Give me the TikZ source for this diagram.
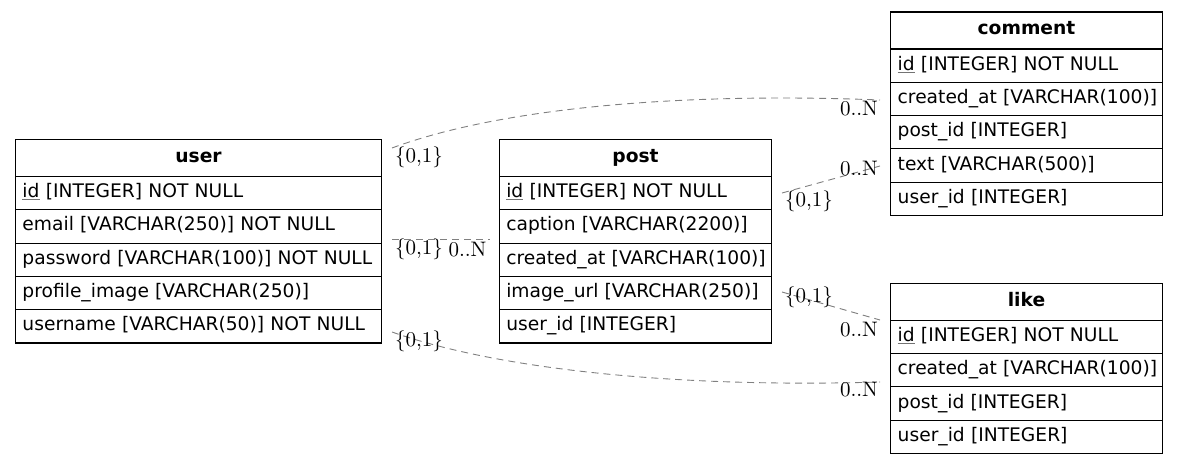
\documentclass[tikz,border=0pt]{standalone}
\usepackage{fontspec}
\newfontfamily\dejavu{DejaVu Sans}
\newfontfamily\cardfont{lmroman10-regular.otf}
% primary key: text in black, underline rule in grey
\newcommand\pkey[1]{{\color{black!55}\underline{\color{black}#1}}}
\begin{document}
\begin{tikzpicture}[x=1pt,y=-1pt,
  tbl/.style={draw=black, line width=1.1pt, inner ysep=0pt, outer sep=0pt, anchor=north west,
    font=\dejavu\fontsize{18.67}{22}\selectfont, text height=14, text depth=5},
  hdr/.style={tbl, minimum height=37, font=\dejavu\bfseries\fontsize{18.67}{22}\selectfont},
  fld/.style={tbl, minimum height=33.3, inner xsep=7pt, align=left},
  rel/.style={draw={rgb,255:red,128;green,128;blue,128}, line width=0.9pt, dash pattern=on 7pt off 5pt},
  card/.style={inner sep=0pt, font=\cardfont\fontsize{21}{25}\selectfont}
]
\useasboundingbox (0,0) rectangle (1179,465);

% user table
\node[hdr, minimum width=366] (user) at (15.5,139.5) {user};
\node[fld, text width=352] (user-id) at (user.south west) {\mbox{\pkey{id} [INTEGER] NOT NULL}};
\node[fld, text width=352] (user-email) at (user-id.south west) {\mbox{email [VARCHAR(250)] NOT NULL}};
\node[fld, text width=352] (user-password) at (user-email.south west) {\mbox{password [VARCHAR(100)] NOT NULL}};
\node[fld, text width=352] (user-profile) at (user-password.south west) {\mbox{profile\_image [VARCHAR(250)]}};
\node[fld, text width=352] (user-username) at (user-profile.south west) {\mbox{username [VARCHAR(50)] NOT NULL}};

% post table
\node[hdr, minimum width=272.4] (post) at (499.3,139.5) {post};
\node[fld, text width=258.4] (post-id) at (post.south west) {\mbox{\pkey{id} [INTEGER] NOT NULL}};
\node[fld, text width=258.4] (post-caption) at (post-id.south west) {\mbox{caption [VARCHAR(2200)]}};
\node[fld, text width=258.4] (post-created) at (post-caption.south west) {\mbox{created\_at [VARCHAR(100)]}};
\node[fld, text width=258.4] (post-image) at (post-created.south west) {\mbox{image\_url [VARCHAR(250)]}};
\node[fld, text width=258.4] (post-user) at (post-image.south west) {\mbox{user\_id [INTEGER]}};

% comment table
\node[hdr, minimum width=271.6] (comment) at (890.7,12) {comment};
\node[fld, text width=257.6] (comment-id) at (comment.south west) {\mbox{\pkey{id} [INTEGER] NOT NULL}};
\node[fld, text width=257.6] (comment-created) at (comment-id.south west) {\mbox{created\_at [VARCHAR(100)]}};
\node[fld, text width=257.6] (comment-post) at (comment-created.south west) {\mbox{post\_id [INTEGER]}};
\node[fld, text width=257.6] (comment-text) at (comment-post.south west) {\mbox{text [VARCHAR(500)]}};
\node[fld, text width=257.6] (comment-user) at (comment-text.south west) {\mbox{user\_id [INTEGER]}};

% like table
\node[hdr, minimum width=271.6] (like) at (890.7,283.3) {like};
\node[fld, text width=257.6] (like-id) at (like.south west) {\mbox{\pkey{id} [INTEGER] NOT NULL}};
\node[fld, text width=257.6] (like-created) at (like-id.south west) {\mbox{created\_at [VARCHAR(100)]}};
\node[fld, text width=257.6] (like-post) at (like-created.south west) {\mbox{post\_id [INTEGER]}};
\node[fld, text width=257.6] (like-user) at (like-post.south west) {\mbox{user\_id [INTEGER]}};

% relationship end points
\coordinate (uc-a) at (392,148);
\coordinate (uc-b) at (880,100);
\coordinate (up-a) at (392,239);
\coordinate (up-b) at (490,239);
\coordinate (ul-a) at (392,332);
\coordinate (ul-b) at (880,382);
\coordinate (pc-a) at (782,193);
\coordinate (pc-b) at (880,166);
\coordinate (pl-a) at (782,292);
\coordinate (pl-b) at (880,320);

% relationships
\draw[rel] (uc-a) .. controls (500,108) and (680,92) .. (uc-b);
\draw[rel] (up-a) -- (up-b);
\draw[rel] (ul-a) .. controls (500,370) and (680,388) .. (ul-b);
\draw[rel] (pc-a) -- (pc-b);
\draw[rel] (pl-a) -- (pl-b);

% cardinalities
\node[card] (uc-from) at (419,157.5) {\{0,1\}};
\node[card] (uc-to) at (859,108.5) {0..N};
\node[card] (up-from) at (419,249.5) {\{0,1\}};
\node[card] (up-to) at (467.5,249.5) {0..N};
\node[card] (ul-from) at (419,341) {\{0,1\}};
\node[card] (ul-to) at (859,389.5) {0..N};
\node[card] (pc-from) at (809,201.5) {\{0,1\}};
\node[card] (pc-to) at (859,169) {0..N};
\node[card] (pl-from) at (809,297.5) {\{0,1\}};
\node[card] (pl-to) at (859,330) {0..N};
\end{tikzpicture}
\end{document}
